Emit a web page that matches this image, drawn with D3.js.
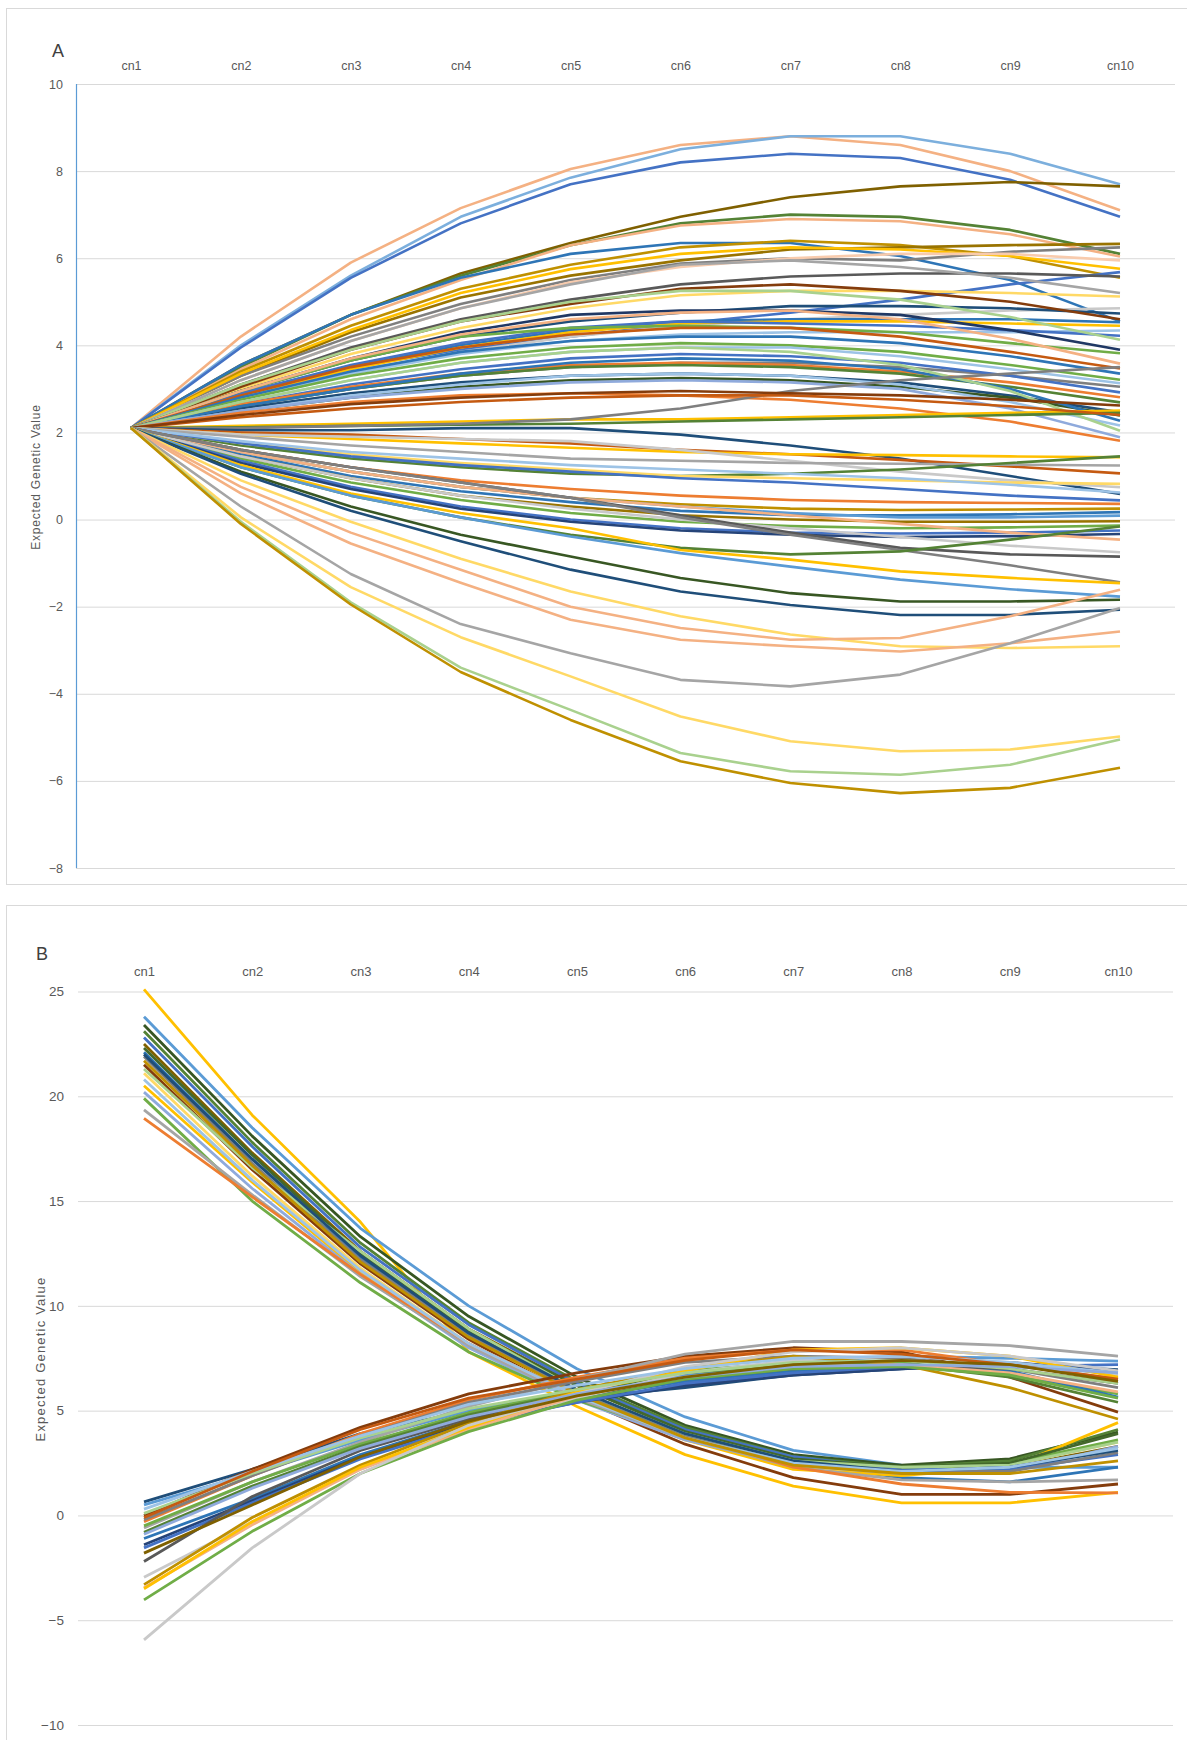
<!DOCTYPE html>
<html><head><meta charset="utf-8">
<script src="https://cdn.jsdelivr.net/npm/d3@7"></script>
<style>body{margin:0;background:#fff}svg{display:block}</style>
</head><body>
<svg id="c" width="1187" height="1740"></svg>
<script>
const categories = ["cn1","cn2","cn3","cn4","cn5","cn6","cn7","cn8","cn9","cn10"];
const ticksA = [10,8,6,4,2,0,-2,-4,-6,-8];
const ticksB = [25,20,15,10,5,0,-5,-10];

const seriesA = [
[2.1,4.2,5.9,7.15,8.05,8.6,8.8,8.6,8.0,7.1],
[2.1,4.0,5.6,6.95,7.85,8.5,8.8,8.8,8.4,7.7],
[2.1,3.95,5.55,6.8,7.7,8.2,8.4,8.3,7.8,6.95],
[2.1,3.55,4.7,5.65,6.35,6.95,7.4,7.65,7.75,7.65],
[2.1,3.5,4.7,5.6,6.3,6.8,7.0,6.95,6.65,6.1],
[2.1,3.45,4.6,5.5,6.3,6.75,6.9,6.85,6.55,6.04],
[2.1,3.55,4.7,5.55,6.1,6.35,6.35,6.05,5.5,4.55],
[2.1,3.4,4.45,5.3,5.85,6.25,6.4,6.3,6.05,5.55],
[2.1,3.3,4.3,5.1,5.6,5.95,6.2,6.25,6.3,6.33],
[2.1,3.3,4.2,4.95,5.5,5.88,6.0,5.95,6.15,6.25],
[2.1,3.35,4.35,5.2,5.75,6.1,6.25,6.2,6.05,5.76],
[2.1,3.2,4.1,4.85,5.45,5.8,6.0,6.1,6.1,5.95],
[2.1,2.9,3.5,3.9,4.2,4.5,4.75,5.05,5.4,5.68],
[2.1,3.1,3.95,4.6,5.05,5.4,5.58,5.65,5.65,5.58],
[2.1,3.2,4.1,4.85,5.4,5.85,5.95,5.8,5.55,5.2],
[2.1,3.0,3.8,4.4,4.85,5.15,5.25,5.25,5.2,5.12],
[2.1,2.8,3.4,3.85,4.2,4.45,4.6,4.7,4.8,4.85],
[2.1,2.95,3.65,4.2,4.55,4.75,4.9,4.9,4.85,4.73],
[2.1,3.05,3.9,4.55,4.95,5.3,5.4,5.25,5.0,4.6],
[2.1,2.85,3.5,4.0,4.35,4.55,4.6,4.6,4.6,4.53],
[2.1,2.85,3.45,3.95,4.3,4.5,4.55,4.55,4.5,4.45],
[2.1,2.8,3.35,3.8,4.1,4.25,4.3,4.3,4.3,4.34],
[2.1,2.9,3.55,4.05,4.4,4.55,4.5,4.45,4.35,4.22],
[2.1,3.1,3.9,4.55,5.0,5.25,5.25,5.05,4.65,4.13],
[2.1,2.95,3.7,4.3,4.7,4.8,4.8,4.7,4.35,3.9],
[2.1,2.95,3.65,4.2,4.4,4.45,4.4,4.3,4.05,3.82],
[2.1,2.95,3.7,4.25,4.6,4.75,4.8,4.6,4.15,3.58],
[2.1,2.85,3.5,3.95,4.25,4.4,4.4,4.2,3.85,3.47],
[2.1,2.8,3.4,3.85,4.1,4.2,4.2,4.05,3.75,3.35],
[2.1,2.75,3.3,3.7,3.95,4.05,4.0,3.85,3.55,3.21],
[2.1,2.7,3.2,3.6,3.85,3.95,3.95,3.75,3.45,3.13],
[2.1,2.6,3.0,3.3,3.5,3.6,3.6,3.5,3.3,3.05],
[2.1,2.65,3.1,3.45,3.7,3.8,3.75,3.6,3.3,2.92],
[2.1,2.65,3.05,3.35,3.55,3.6,3.55,3.4,3.15,2.81],
[2.1,2.6,3.0,3.3,3.5,3.55,3.5,3.35,3.05,2.69],
[2.1,2.55,2.9,3.15,3.3,3.35,3.3,3.15,2.85,2.46],
[2.1,2.5,2.8,3.05,3.2,3.25,3.2,3.05,2.8,2.39],
[2.1,2.6,3.0,3.35,3.6,3.7,3.65,3.45,3.0,2.27],
[2.1,2.5,2.85,3.1,3.3,3.35,3.3,3.1,2.7,2.16],
[2.1,2.7,3.2,3.6,3.85,3.95,3.85,3.55,2.95,2.04],
[2.1,2.5,2.8,3.0,3.15,3.2,3.15,3.0,2.55,1.89],
[2.1,2.45,2.7,2.85,2.9,2.85,2.75,2.55,2.25,1.81],
[2.1,2.15,2.2,2.25,2.3,2.3,2.35,2.4,2.45,2.5],
[2.1,2.12,2.15,2.18,2.2,2.25,2.3,2.35,2.4,2.45],
[2.1,2.1,2.15,2.2,2.3,2.55,2.95,3.2,3.35,3.5],
[2.1,2.35,2.55,2.7,2.8,2.85,2.85,2.75,2.6,2.4],
[2.1,2.4,2.65,2.8,2.9,2.95,2.9,2.85,2.75,2.62],
[2.1,2.05,2.05,2.1,2.1,1.95,1.7,1.4,1.0,0.59],
[2.1,2.0,1.95,1.85,1.75,1.6,1.5,1.37,1.22,1.06],
[2.1,1.95,1.85,1.75,1.65,1.55,1.5,1.48,1.45,1.43],
[2.1,1.95,1.9,1.85,1.8,1.6,1.35,1.1,0.9,0.74],
[2.1,1.9,1.7,1.55,1.4,1.35,1.3,1.28,1.26,1.24],
[2.1,1.7,1.4,1.2,1.05,1.0,1.05,1.15,1.3,1.45],
[2.1,1.75,1.5,1.3,1.15,1.0,0.95,0.9,0.85,0.82],
[2.1,1.75,1.45,1.25,1.1,0.95,0.85,0.7,0.55,0.44],
[2.1,1.8,1.55,1.4,1.25,1.15,1.05,0.95,0.8,0.62],
[2.1,1.6,1.2,0.9,0.7,0.55,0.45,0.4,0.38,0.36],
[2.1,1.55,1.1,0.75,0.5,0.35,0.25,0.22,0.23,0.25],
[2.1,1.5,1.0,0.65,0.4,0.2,0.1,0.1,0.12,0.17],
[2.1,1.55,1.1,0.75,0.5,0.3,0.15,0.05,0.05,0.09],
[2.1,1.45,0.95,0.55,0.3,0.1,0.0,-0.05,-0.05,-0.04],
[2.1,1.4,0.85,0.45,0.15,-0.05,-0.15,-0.2,-0.18,-0.14],
[2.1,1.35,0.75,0.3,0.0,-0.2,-0.3,-0.32,-0.3,-0.25],
[2.1,1.3,0.7,0.25,-0.05,-0.25,-0.35,-0.4,-0.38,-0.33],
[2.1,1.55,1.1,0.75,0.5,0.3,0.1,-0.1,-0.3,-0.46],
[2.1,1.45,0.95,0.55,0.25,0.0,-0.2,-0.4,-0.6,-0.75],
[2.1,1.6,1.2,0.85,0.5,0.1,-0.3,-0.65,-0.8,-0.85],
[2.1,1.6,1.2,0.85,0.5,0.05,-0.35,-0.7,-1.05,-1.44],
[2.1,1.2,0.55,0.05,-0.35,-0.65,-0.8,-0.73,-0.46,-0.16],
[2.1,1.25,0.6,0.15,-0.2,-0.7,-0.92,-1.19,-1.34,-1.46],
[2.1,1.2,0.55,0.05,-0.39,-0.77,-1.08,-1.38,-1.6,-1.77],
[2.1,1.1,0.3,-0.35,-0.85,-1.34,-1.69,-1.88,-1.88,-1.84],
[2.1,1.05,0.2,-0.5,-1.15,-1.65,-1.96,-2.19,-2.19,-2.07],
[2.1,0.9,-0.05,-0.9,-1.65,-2.22,-2.64,-2.91,-2.95,-2.91],
[2.1,0.75,-0.3,-1.15,-2.0,-2.49,-2.76,-2.72,-2.22,-1.61],
[2.1,0.6,-0.55,-1.45,-2.3,-2.76,-2.91,-3.03,-2.84,-2.57],
[2.1,0.3,-1.25,-2.4,-3.07,-3.68,-3.83,-3.56,-2.84,-2.03],
[2.1,0.05,-1.55,-2.7,-3.6,-4.52,-5.09,-5.32,-5.28,-4.98],
[2.1,-0.05,-1.9,-3.4,-4.37,-5.36,-5.78,-5.86,-5.63,-5.05],
[2.1,-0.1,-1.95,-3.5,-4.6,-5.55,-6.05,-6.28,-6.16,-5.7]
];
const colorsA = [
"#F4B183","#7CAFDD","#4472C4","#7F6000","#548235","#F4B183","#2E75B6","#BF9000","#997300","#7F7F7F",
"#FFC000","#F8CBAD","#4472C4","#595959","#A5A5A5","#FFD966","#C9C9C9","#1F4E79","#843C0C","#2E75B6",
"#FFC000","#9DC3E6","#4472C4","#A9D18E","#203864","#70AD47","#F4B183","#C55A11","#2E75B6","#70AD47",
"#9DC3E6","#7F7F7F","#4472C4","#ED7D31","#548235","#1F4E79","#385723","#2E75B6","#9DC3E6","#A9D18E",
"#8FAADC","#ED7D31","#FFC000","#548235","#7F7F7F","#C55A11","#843C0C",
"#1F4E79","#C55A11","#FFC000","#C9C9C9","#A5A5A5","#548235","#FFD966","#4472C4","#9DC3E6","#ED7D31",
"#BF9000","#2E75B6","#5B9BD5","#997300","#70AD47","#4472C4","#264478","#F4B183","#C9C9C9","#595959",
"#7F7F7F","#548235","#FFC000","#5B9BD5","#385723","#1F4E79","#FFD966","#F4B183","#F4B183","#A5A5A5",
"#FFD966","#A9D18E","#BF9000"
];

const seriesB = [
[25.1,19.1,14.0,7.8,5.2,2.9,1.4,0.6,0.6,1.1],
[23.8,18.5,13.7,10.0,7.0,4.7,3.1,2.4,2.3,2.3],
[23.4,18.1,13.3,9.5,6.6,4.3,2.9,2.4,2.7,3.97],
[23.1,17.8,13.0,9.2,6.4,4.2,2.8,2.3,2.6,4.1],
[22.5,17.3,12.6,8.9,6.2,4.0,2.7,2.2,2.3,3.3],
[22.1,17.0,12.3,8.7,6.0,3.8,2.5,1.8,1.6,2.3],
[21.5,16.5,12.0,8.4,5.6,3.4,1.8,1.0,1.0,1.5],
[21.1,16.2,11.8,8.2,5.7,3.7,2.3,2.0,2.4,3.5],
[20.5,15.9,11.6,8.1,5.6,3.6,2.2,1.9,2.3,4.43],
[20.2,15.6,11.5,8.0,5.5,3.6,2.4,2.0,2.1,3.3],
[19.9,15.0,11.1,7.8,5.5,3.8,2.6,2.2,2.5,3.6],
[19.35,15.3,11.4,8.1,5.6,3.7,2.3,1.7,1.6,1.7],
[18.95,15.2,11.5,8.2,5.7,3.9,2.3,1.5,1.1,1.08],
[22.8,17.6,12.8,9.1,6.3,4.1,2.8,2.2,2.2,2.9],
[22.3,17.2,12.5,8.8,6.2,4.0,2.7,2.3,2.5,3.9],
[21.9,16.8,12.2,8.6,5.9,3.8,2.6,2.1,2.1,3.0],
[21.3,16.6,12.6,8.9,6.0,3.9,2.6,2.3,2.4,3.5],
[22.0,17.0,12.4,8.7,6.0,3.9,2.6,2.1,2.3,3.1],
[20.8,16.0,11.7,8.2,5.7,3.7,2.5,2.1,2.3,3.2],
[21.7,16.7,12.1,8.5,5.8,3.7,2.4,2.0,2.0,2.6],
[0.65,2.2,3.9,5.0,5.6,6.1,6.7,7.0,7.2,6.96],
[0.5,2.0,3.6,5.0,5.9,6.7,7.3,7.6,7.5,7.36],
[0.0,2.2,4.2,5.8,6.8,7.6,8.0,7.8,6.6,4.93],
[-0.3,1.9,3.9,5.5,6.6,7.5,7.9,7.9,7.2,6.5],
[-0.6,1.6,3.5,5.2,6.5,7.7,8.3,8.3,8.1,7.6],
[-0.5,1.6,3.4,4.9,6.0,6.9,7.3,7.3,6.7,5.8],
[-0.8,1.4,3.3,4.8,5.9,6.8,7.2,7.2,6.6,5.4],
[-0.2,1.9,3.8,5.4,6.4,7.3,7.6,7.5,7.0,6.1],
[-1.1,0.8,2.9,4.5,5.6,6.4,6.9,7.1,6.9,5.64],
[-1.4,0.7,2.8,4.4,5.4,6.2,6.7,7.0,7.3,6.9],
[-1.55,0.6,2.7,4.3,5.4,6.3,6.8,7.1,7.1,7.2],
[-2.2,0.9,3.1,4.6,5.7,6.5,7.0,7.2,7.0,6.3],
[-2.95,-0.3,2.2,4.3,5.6,6.8,7.4,7.6,7.3,6.7],
[-3.3,-0.1,2.4,4.4,6.0,7.0,7.6,7.2,6.1,4.6],
[-3.45,-0.45,2.2,4.1,5.7,6.6,7.1,7.2,6.8,5.9],
[-3.5,-0.3,2.3,4.2,5.9,6.9,7.9,8.0,7.6,6.6],
[-4.03,-0.76,2.0,4.0,5.5,6.5,7.0,7.1,6.7,5.6],
[-5.94,-1.55,2.0,4.3,5.8,7.1,7.8,8.0,7.6,6.9],
[0.1,2.0,3.7,5.1,6.0,6.8,7.3,7.4,7.0,6.3],
[0.3,2.1,3.8,5.3,6.2,7.0,7.5,7.6,7.3,6.8],
[-0.1,2.1,4.1,5.6,6.5,7.4,7.9,7.7,7.2,6.5],
[-0.9,1.3,3.2,4.7,5.8,6.6,7.1,7.2,7.1,6.8],
[-1.8,0.5,2.8,4.5,5.7,6.6,7.2,7.4,7.2,6.4]
];
const colorsB = [
"#FFC000","#5B9BD5","#375623","#548235","#7F6000","#2E75B6","#843C0C","#FFD966","#FFC000","#8FAADC",
"#70AD47","#A5A5A5","#ED7D31","#4472C4","#43682B","#7F7F7F","#A9D18E","#1F4E79","#9DC3E6","#BF9000",
"#1F4E79","#5B9BD5","#843C0C","#ED7D31","#A5A5A5","#70AD47","#548235","#7F7F7F","#2E75B6","#264478",
"#4472C4","#595959","#C9C9C9","#BF9000","#F4B183","#FFC000","#70AD47","#C9C9C9","#A9D18E","#9DC3E6",
"#C55A11","#8FAADC","#7F6000"
];

const svg = d3.select("#c");
const font = "'Liberation Sans', Arial, sans-serif";
const fmt = d => d < 0 ? "\u2212" + Math.abs(d) : String(d);

// panel frames
svg.append("rect").attr("x",6.5).attr("y",8.5).attr("width",1185).attr("height",876)
  .attr("fill","none").attr("stroke","#D9D9D9");
svg.append("rect").attr("x",6.5).attr("y",905.5).attr("width",1185).attr("height",850)
  .attr("fill","none").attr("stroke","#D9D9D9");

function panel(cfg){
  const g = svg.append("g");
  const x = d3.scalePoint().domain(categories).range([cfg.x0, cfg.x1]);
  const y = d3.scaleLinear().domain([cfg.ymin, cfg.ymax]).range([cfg.yb, cfg.yt]);
  const ya = g.append("g").attr("transform",`translate(${cfg.gx0},0)`)
    .call(d3.axisLeft(y).tickValues(cfg.ticks).tickFormat(fmt)
      .tickSize(-(cfg.gx1-cfg.gx0)).tickPadding(cfg.pad));
  ya.select(".domain").remove();
  ya.selectAll("line").attr("stroke","#D9D9D9").attr("stroke-width",1);
  ya.selectAll("text").attr("fill","#595959").style("font-family",font).style("font-size",cfg.fs+"px");
  if (cfg.axisLine) {
    g.append("line").attr("x1",cfg.gx0+0.5).attr("x2",cfg.gx0+0.5)
      .attr("y1",y(cfg.ymax)).attr("y2",y(cfg.ymin)).attr("stroke","#5B9BD5").attr("stroke-width",1.2);
  }
  const xa = g.append("g").attr("transform",`translate(0,${cfg.catY})`)
    .call(d3.axisTop(x).tickSize(0).tickPadding(0));
  xa.select(".domain").remove();
  xa.selectAll("text").attr("fill","#595959").style("font-family",font).style("font-size",cfg.cfs+"px");
  g.append("text").attr("x",cfg.lx).attr("y",cfg.ly).text(cfg.letter)
    .attr("fill","#404040").style("font-family",font).style("font-size","18px");
  g.append("text").attr("transform",`translate(${cfg.tx},${cfg.ty}) rotate(-90)`)
    .attr("text-anchor","middle").attr("dominant-baseline","central")
    .text("Expected Genetic Value").attr("fill","#595959")
    .style("font-family",font).style("font-size",cfg.tfs+"px").style("letter-spacing",cfg.ls+"px");
  const line = d3.line().x((d,i)=>x(categories[i])).y(d=>y(d));
  g.append("g").selectAll("path").data(cfg.series).join("path")
    .attr("d",line).attr("fill","none")
    .attr("stroke",(d,i)=>cfg.colors[i % cfg.colors.length])
    .attr("stroke-width",cfg.sw).attr("stroke-linejoin","round").attr("stroke-linecap","butt");
}

panel({series:seriesA, colors:colorsA, ticks:ticksA, ymin:-8, ymax:10, yb:868, yt:84,
  x0:131, x1:1120, gx0:76, gx1:1175, pad:13, fs:12.5, cfs:12.5, catY:69.5, axisLine:true,
  letter:"A", lx:52, ly:57, tx:36, ty:477, tfs:12, ls:0.8, sw:2.6});

panel({series:seriesB, colors:colorsB, ticks:ticksB, ymin:-10, ymax:25, yb:1725, yt:991.5,
  x0:144, x1:1118, gx0:78, gx1:1173, pad:14, fs:13.5, cfs:13, catY:975.5, axisLine:false,
  letter:"B", lx:36, ly:960, tx:40, ty:1359, tfs:13, ls:1.2, sw:2.8});
</script>
</body></html>
